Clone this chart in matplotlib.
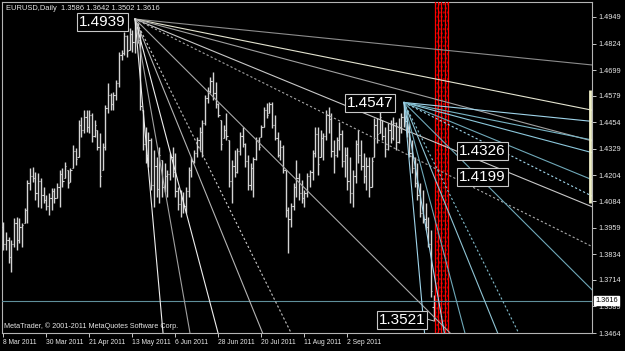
import matplotlib
matplotlib.use("Agg")
import numpy as np
import matplotlib.pyplot as plt

# EURUSD daily bars
highs = [1.3986, 1.3939, 1.3915, 1.3901, 1.4004, 1.4009, 1.4004, 1.3981, 1.4051, 1.4183,
         1.4239, 1.4244, 1.4221, 1.4216, 1.4192, 1.4150, 1.4113, 1.4122, 1.4145, 1.4145,
         1.4169, 1.4230, 1.4239, 1.4268, 1.4230, 1.4239, 1.4348, 1.4333, 1.4465, 1.4479,
         1.4512, 1.4512, 1.4512, 1.4498, 1.4465, 1.4418, 1.4404, 1.4357, 1.4536, 1.4639,
         1.4592, 1.4597, 1.4653, 1.4785, 1.4794, 1.4879, 1.4864, 1.4897, 1.4888, 1.4939,
         1.4921, 1.4888, 1.4512, 1.4432, 1.4409, 1.4380, 1.4324, 1.4291, 1.4338, 1.4277,
         1.4263, 1.4230, 1.4310, 1.4338, 1.4310, 1.4150, 1.4136, 1.4127, 1.4150, 1.4244,
         1.4291, 1.4324, 1.4385, 1.4432, 1.4465, 1.4583, 1.4620, 1.4667, 1.4691, 1.4644,
         1.4545, 1.4465, 1.4442, 1.4498, 1.4371, 1.4277, 1.4324, 1.4333, 1.4409, 1.4432,
         1.4357, 1.4301, 1.4263, 1.4291, 1.4385, 1.4385, 1.4442, 1.4526, 1.4545, 1.4550,
         1.4550, 1.4489, 1.4409, 1.4371, 1.4348, 1.4230, 1.4056, 1.4075, 1.4169, 1.4277,
         1.4216, 1.4183, 1.4136, 1.4216, 1.4230, 1.4324, 1.4432, 1.4432, 1.4418, 1.4404,
         1.4512, 1.4526, 1.4498, 1.4371, 1.4385, 1.4456, 1.4418, 1.4338, 1.4338, 1.4291,
         1.4230, 1.4371, 1.4418, 1.4371, 1.4310, 1.4291, 1.4291, 1.4291, 1.4474, 1.4474,
         1.4512, 1.4465, 1.4432, 1.4451, 1.4465, 1.4479, 1.4456, 1.4474, 1.4498, 1.4547,
         1.4512, 1.4451, 1.4371, 1.4291, 1.4263, 1.4169, 1.4136, 1.4075, 1.4009, 1.3948,
         1.3642]
lows = [1.3854, 1.3854, 1.3793, 1.3751, 1.3868, 1.3854, 1.3887, 1.3868, 1.3981, 1.3981,
        1.4136, 1.4174, 1.4089, 1.4056, 1.4051, 1.4075, 1.4042, 1.4018, 1.4042, 1.4075,
        1.4098, 1.4056, 1.4150, 1.4192, 1.4145, 1.4174, 1.4239, 1.4254, 1.4291, 1.4385,
        1.4404, 1.4409, 1.4404, 1.4362, 1.4385, 1.4324, 1.4150, 1.4230, 1.4324, 1.4498,
        1.4512, 1.4512, 1.4559, 1.4620, 1.4747, 1.4770, 1.4761, 1.4794, 1.4785, 1.4780,
        1.4827, 1.4512, 1.4324, 1.4263, 1.4244, 1.4136, 1.4056, 1.4103, 1.4075, 1.4103,
        1.4127, 1.4103, 1.4183, 1.4197, 1.4103, 1.4042, 1.4009, 1.4028, 1.4028, 1.4103,
        1.4197, 1.4263, 1.4291, 1.4324, 1.4291, 1.4442, 1.4545, 1.4592, 1.4559, 1.4521,
        1.4479, 1.4324, 1.4380, 1.4371, 1.4150, 1.4075, 1.4197, 1.4216, 1.4301, 1.4338,
        1.4244, 1.4136, 1.4136, 1.4103, 1.4277, 1.4324, 1.4385, 1.4432, 1.4474, 1.4498,
        1.4427, 1.4371, 1.4291, 1.4277, 1.4216, 1.4009, 1.3840, 1.3962, 1.4042, 1.4103,
        1.4089, 1.4075, 1.4056, 1.4103, 1.4150, 1.4183, 1.4291, 1.4207, 1.4291, 1.4277,
        1.4371, 1.4404, 1.4291, 1.4216, 1.4291, 1.4324, 1.4244, 1.4197, 1.4136, 1.4075,
        1.4056, 1.4169, 1.4263, 1.4230, 1.4169, 1.4136, 1.4103, 1.4150, 1.4291, 1.4357,
        1.4404, 1.4371, 1.4291, 1.4324, 1.4357, 1.4371, 1.4324, 1.4357, 1.4404, 1.4432,
        1.4385, 1.4291, 1.4216, 1.4150, 1.4089, 1.4009, 1.3981, 1.3948, 1.3868, 1.3633,
        1.3521]
opens = [1.3960, 1.3880, 1.3900, 1.3820, 1.3880, 1.3980, 1.3900, 1.3960, 1.3981, 1.4040,
         1.4170, 1.4200, 1.4190, 1.4120, 1.4180, 1.4110, 1.4090, 1.4060, 1.4100, 1.4130,
         1.4100, 1.4150, 1.4210, 1.4192, 1.4230, 1.4174, 1.4239, 1.4320, 1.4291, 1.4440,
         1.4420, 1.4480, 1.4430, 1.4490, 1.4390, 1.4418, 1.4340, 1.4230, 1.4340, 1.4520,
         1.4580, 1.4540, 1.4580, 1.4640, 1.4770, 1.4780, 1.4860, 1.4794, 1.4870, 1.4830,
         1.4900, 1.4840, 1.4512, 1.4350, 1.4300, 1.4370, 1.4160, 1.4250, 1.4140, 1.4277,
         1.4150, 1.4200, 1.4210, 1.4290, 1.4220, 1.4130, 1.4070, 1.4100, 1.4060, 1.4130,
         1.4230, 1.4270, 1.4310, 1.4370, 1.4410, 1.4450, 1.4570, 1.4600, 1.4650, 1.4590,
         1.4540, 1.4465, 1.4380, 1.4420, 1.4371, 1.4180, 1.4250, 1.4220, 1.4320, 1.4390,
         1.4350, 1.4270, 1.4160, 1.4240, 1.4280, 1.4370, 1.4385, 1.4432, 1.4510, 1.4498,
         1.4540, 1.4440, 1.4380, 1.4300, 1.4340, 1.4230, 1.4040, 1.4000, 1.4060, 1.4150,
         1.4190, 1.4120, 1.4100, 1.4120, 1.4200, 1.4220, 1.4310, 1.4400, 1.4291, 1.4380,
         1.4390, 1.4490, 1.4470, 1.4320, 1.4300, 1.4370, 1.4400, 1.4270, 1.4300, 1.4180,
         1.4120, 1.4200, 1.4350, 1.4300, 1.4250, 1.4200, 1.4250, 1.4150, 1.4291, 1.4440,
         1.4404, 1.4465, 1.4390, 1.4330, 1.4420, 1.4380, 1.4450, 1.4360, 1.4430, 1.4480,
         1.4460, 1.4410, 1.4310, 1.4240, 1.4170, 1.4110, 1.4030, 1.4000, 1.3960, 1.3880,
         1.3586]
closes = [1.3880, 1.3900, 1.3820, 1.3880, 1.3980, 1.3900, 1.3960, 1.3970, 1.4040, 1.4170,
          1.4200, 1.4190, 1.4120, 1.4180, 1.4110, 1.4090, 1.4060, 1.4100, 1.4130, 1.4100,
          1.4150, 1.4210, 1.4180, 1.4250, 1.4170, 1.4230, 1.4320, 1.4280, 1.4440, 1.4420,
          1.4480, 1.4430, 1.4490, 1.4390, 1.4440, 1.4340, 1.4200, 1.4340, 1.4520, 1.4580,
          1.4540, 1.4580, 1.4640, 1.4770, 1.4780, 1.4860, 1.4790, 1.4870, 1.4830, 1.4900,
          1.4840, 1.4530, 1.4350, 1.4300, 1.4370, 1.4160, 1.4250, 1.4140, 1.4300, 1.4150,
          1.4200, 1.4210, 1.4290, 1.4220, 1.4130, 1.4070, 1.4100, 1.4060, 1.4130, 1.4230,
          1.4270, 1.4310, 1.4370, 1.4410, 1.4450, 1.4570, 1.4600, 1.4650, 1.4590, 1.4540,
          1.4490, 1.4350, 1.4420, 1.4390, 1.4180, 1.4250, 1.4220, 1.4320, 1.4390, 1.4350,
          1.4270, 1.4160, 1.4240, 1.4280, 1.4370, 1.4340, 1.4430, 1.4510, 1.4490, 1.4540,
          1.4440, 1.4380, 1.4300, 1.4340, 1.4230, 1.4040, 1.4000, 1.4060, 1.4150, 1.4190,
          1.4120, 1.4100, 1.4120, 1.4200, 1.4220, 1.4310, 1.4400, 1.4260, 1.4380, 1.4390,
          1.4490, 1.4470, 1.4320, 1.4300, 1.4370, 1.4400, 1.4270, 1.4300, 1.4180, 1.4120,
          1.4200, 1.4350, 1.4300, 1.4250, 1.4200, 1.4250, 1.4150, 1.4270, 1.4440, 1.4400,
          1.4480, 1.4390, 1.4330, 1.4420, 1.4380, 1.4450, 1.4360, 1.4430, 1.4480, 1.4460,
          1.4410, 1.4310, 1.4240, 1.4170, 1.4110, 1.4030, 1.4000, 1.3960, 1.3880, 1.3660,
          1.3616]

date_labels = ["8 Mar 2011", "30 Mar 2011", "21 Apr 2011", "13 May 2011", "6 Jun 2011",
               "28 Jun 2011", "20 Jul 2011", "11 Aug 2011", "2 Sep 2011"]
date_bars = [0, 16, 32, 48, 64, 80, 96, 112, 128]
price_ticks = [1.4949, 1.4824, 1.4699, 1.4579, 1.4454, 1.4329, 1.4204, 1.4084,
               1.3959, 1.3834, 1.3714, 1.3589, 1.3464]

# fan lines: price drop per bar
fan_slopes = [0.000127, 0.000252, 0.000337, 0.000519, 0.000629, 0.001259,
              0.002541, 0.003109, 0.004778, 0.007217, 0.014157]
fan_dashed = [False, False, False, False, True, False, True, False, False, False, False]
fan_a_anchor = (49, 1.4939)
fan_b_anchor = (149, 1.4547)
fan_a_colors = ["#8c8c8c", "#e4e4d0", "#a0a0a0", "#c8c8c8", "#a8a8a8", "#a8a8a8",
                "#c8c8c8", "#b4b4b4", "#eeeeee", "#a0a0a0", "#eeeeee"]
fan_b_colors = ["#9fd4ea", "#78b4c4", "#8cc8dc", "#6fa8b8", "#9fd4ea", "#6fa8b8",
                "#7fb8c8", "#8fc4d4", "#6fa8b8", "#9fd4ea", "#9fd4ea"]

level_labels = ["1.4939", "1.4547", "1.4326", "1.4199", "1.3521"]
last_price = 1.3616
red_line_bars = [160.7, 161.6, 162.7, 164.2, 165.5]

small = ["Liberation Sans", "DejaVu Sans"]

fig = plt.figure(figsize=(6.25, 3.51), dpi=100, facecolor="black")
ax = fig.add_axes([2 / 625, 18 / 351, 590 / 625, 331 / 351])
ax.set_facecolor("black")
ax.set_xlim(-0.446, 218.9)
ax.set_ylim(1.3464, 1.5019)

for sp in ax.spines.values():
    sp.set_color("#b4b4b4")
    sp.set_linewidth(0.8)

# OHLC bars
idx = np.arange(len(highs))
ax.vlines(idx, lows, highs, colors="#d4d4d4", linewidth=1.0, zorder=3)
ax.hlines(opens, idx - 0.45, idx, colors="#d4d4d4", linewidth=0.8, zorder=3)
ax.hlines(closes, idx, idx + 0.45, colors="#d4d4d4", linewidth=0.8, zorder=3)

# red time lines with dotted band
ax.axvspan(red_line_bars[0], red_line_bars[-1], facecolor="none", edgecolor="#b00000",
           hatch="....", linewidth=0, zorder=2)
for xb in red_line_bars:
    ax.axvline(xb, color="#ff0000", linewidth=0.9, zorder=4)

# fans
for anchor, colors in ((fan_a_anchor, fan_a_colors), (fan_b_anchor, fan_b_colors)):
    x0, p0 = anchor
    x1 = 240
    for s, c, d in zip(fan_slopes, colors, fan_dashed):
        ax.plot([x0, x1], [p0, p0 - s * (x1 - x0)], color=c, linewidth=0.8,
                linestyle=(0, (2, 2)) if d else "-", zorder=5)

# current price line
ax.axhline(last_price, color="#5f8f9a", linewidth=0.8, zorder=4)

# level labels
label_pos = [(36.9, 1.4925), (136.4, 1.4545), (178.2, 1.4319), (178.2, 1.4197), (148.3, 1.3525)]
for (x, y), s in zip(label_pos, level_labels):
    ax.text(x, y, s, ha="center", va="center", fontsize=11, color="white",
            family=["Liberation Sans", "DejaVu Sans"], zorder=8,
            bbox=dict(boxstyle="square,pad=0.12", fc="black", ec="#c8c8c8", lw=0.8))
# short leader from the low label to the last bar
ax.plot([158.0, 160.0], [1.3528, 1.3521], color="#c8c8c8", linewidth=0.7, zorder=7)

# axes ticks
ax.yaxis.tick_right()
ax.set_yticks(price_ticks)
ax.set_yticklabels([f"{p:.4f}" for p in price_ticks], family=small)
ax.tick_params(axis="y", colors="#c8c8c8", labelcolor="#e6e6e6", labelsize=5.3,
               length=3, width=0.7, pad=1.5)
ax.set_xticks(date_bars)
ax.set_xticklabels(date_labels, family=small)
for lbl in ax.get_xticklabels():
    lbl.set_ha("left")
ax.tick_params(axis="x", colors="#c8c8c8", labelcolor="#e6e6e6", labelsize=4.9,
               length=3, width=0.7, pad=1.5)

# range marker on price scale
ax.vlines(0.997, 1.4075, 1.4606, transform=ax.get_yaxis_transform(),
          colors="#f0f0c8", linewidth=2.0, zorder=6, clip_on=False)

# current price box
ax.text(1.006, last_price, f"{last_price:.4f}", transform=ax.get_yaxis_transform(),
        ha="left", va="center", fontsize=5.3, color="black", family=small, zorder=9,
        clip_on=False, bbox=dict(boxstyle="square,pad=0.15", fc="white", ec="white"))

fig.text(6 / 625, 1 - 9 / 351, "EURUSD,Daily  1.3586 1.3642 1.3502 1.3616",
         fontsize=5.4, color="#e6e6e6", family=small, va="center")
fig.text(4 / 625, 1 - 326 / 351, "MetaTrader, © 2001-2011 MetaQuotes Software Corp.",
         fontsize=5.2, color="#e6e6e6", family=small, va="center")

fig.savefig("out.png", dpi=100, facecolor="black")
